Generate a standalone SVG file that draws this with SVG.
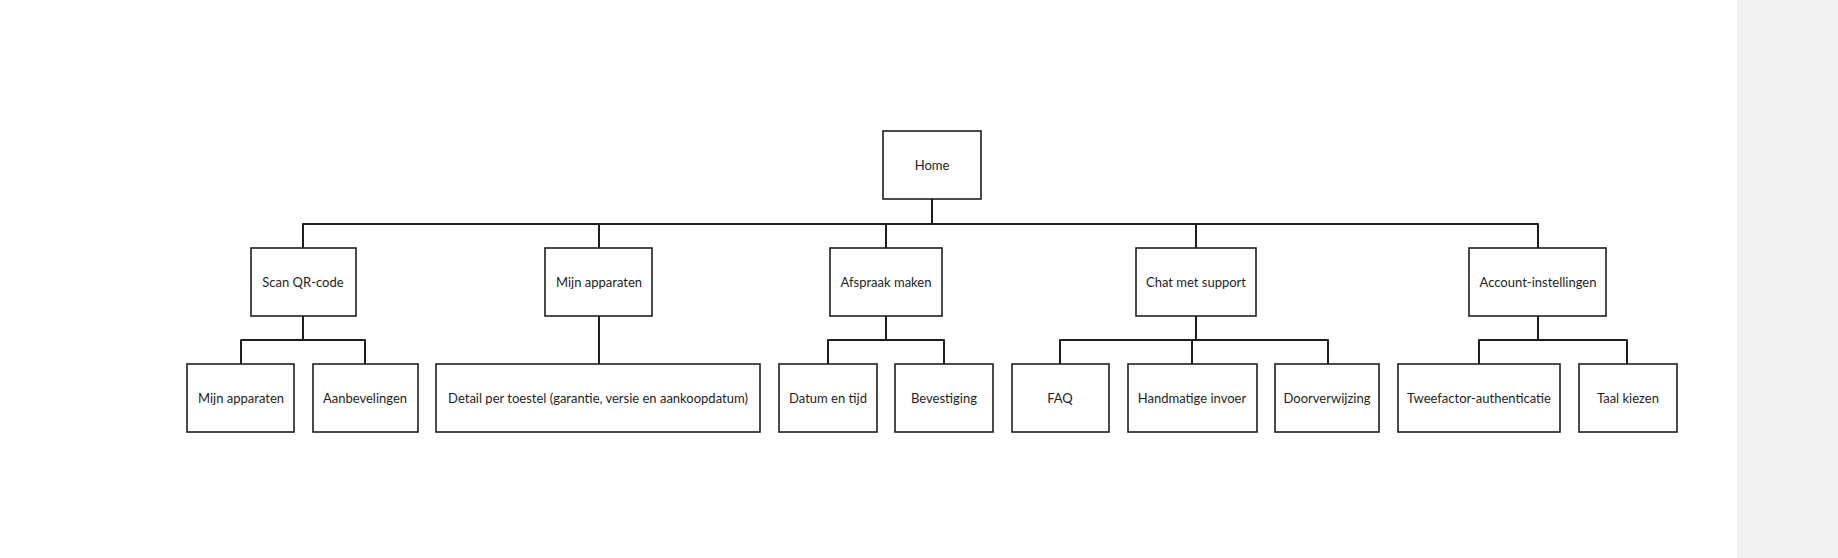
<svg xmlns="http://www.w3.org/2000/svg" width="1838" height="558" viewBox="0 0 1838 558">
<style>
.box{fill:#ffffff;stroke:#1e1e1e;stroke-width:1.6}
.lbl{font-family:Lato,"Open Sans",sans-serif;font-size:13px;fill:#1e1e1e;text-anchor:middle;dominant-baseline:central}
.con{fill:none;stroke:#1e1e1e;stroke-width:2;stroke-linecap:round;stroke-linejoin:round}
</style>
<rect x="0" y="0" width="1838" height="558" fill="#ffffff"/>
<rect x="1737" y="0" width="101" height="558" fill="#f2f2f2"/>
<g id="connectors">
<path class="con" d="M932,199 V224 M303,224 H1538 M303,224 V248 M599,224 V248 M886,224 V248 M1196,224 V248 M1538,224 V248"/>
<path class="con" d="M303,316 V340 M241,340 H365 M241,340 V364 M365,340 V364"/>
<path class="con" d="M599,316 V364"/>
<path class="con" d="M886,316 V340 M828,340 H944 M828,340 V364 M944,340 V364"/>
<path class="con" d="M1196,316 V340 M1060,340 H1328 M1060,340 V364 M1192,340 V364 M1328,340 V364"/>
<path class="con" d="M1538,316 V340 M1479,340 H1627 M1479,340 V364 M1627,340 V364"/>
</g>
<g id="home"><rect class="box" x="883" y="131" width="98" height="68"/><text class="lbl" x="932" y="165">Home</text></g>
<g id="scan"><rect class="box" x="251" y="248" width="105" height="68"/><text class="lbl" x="303" y="282">Scan QR-code</text></g>
<g id="mijn"><rect class="box" x="545" y="248" width="107" height="68"/><text class="lbl" x="599" y="282">Mijn apparaten</text></g>
<g id="afspraak"><rect class="box" x="830" y="248" width="112" height="68"/><text class="lbl" x="886" y="282">Afspraak maken</text></g>
<g id="chat"><rect class="box" x="1136" y="248" width="120" height="68"/><text class="lbl" x="1196" y="282">Chat met support</text></g>
<g id="account"><rect class="box" x="1469" y="248" width="137" height="68"/><text class="lbl" x="1538" y="282">Account-instellingen</text></g>
<g id="scan-mijn"><rect class="box" x="187" y="364" width="107" height="68"/><text class="lbl" x="241" y="398">Mijn apparaten</text></g>
<g id="aanbevelingen"><rect class="box" x="313" y="364" width="105" height="68"/><text class="lbl" x="365" y="398">Aanbevelingen</text></g>
<g id="detail"><rect class="box" x="436" y="364" width="324" height="68"/><text class="lbl" x="598" y="398">Detail per toestel (garantie, versie en aankoopdatum)</text></g>
<g id="datum"><rect class="box" x="779" y="364" width="98" height="68"/><text class="lbl" x="828" y="398">Datum en tijd</text></g>
<g id="bevestiging"><rect class="box" x="895" y="364" width="98" height="68"/><text class="lbl" x="944" y="398">Bevestiging</text></g>
<g id="faq"><rect class="box" x="1012" y="364" width="97" height="68"/><text class="lbl" x="1060" y="398">FAQ</text></g>
<g id="handmatig"><rect class="box" x="1128" y="364" width="129" height="68"/><text class="lbl" x="1192" y="398">Handmatige invoer</text></g>
<g id="doorverwijzing"><rect class="box" x="1275" y="364" width="104" height="68"/><text class="lbl" x="1327" y="398">Doorverwijzing</text></g>
<g id="tweefactor"><rect class="box" x="1398" y="364" width="162" height="68"/><text class="lbl" x="1479" y="398">Tweefactor-authenticatie</text></g>
<g id="taal"><rect class="box" x="1579" y="364" width="98" height="68"/><text class="lbl" x="1628" y="398">Taal kiezen</text></g>
</svg>
